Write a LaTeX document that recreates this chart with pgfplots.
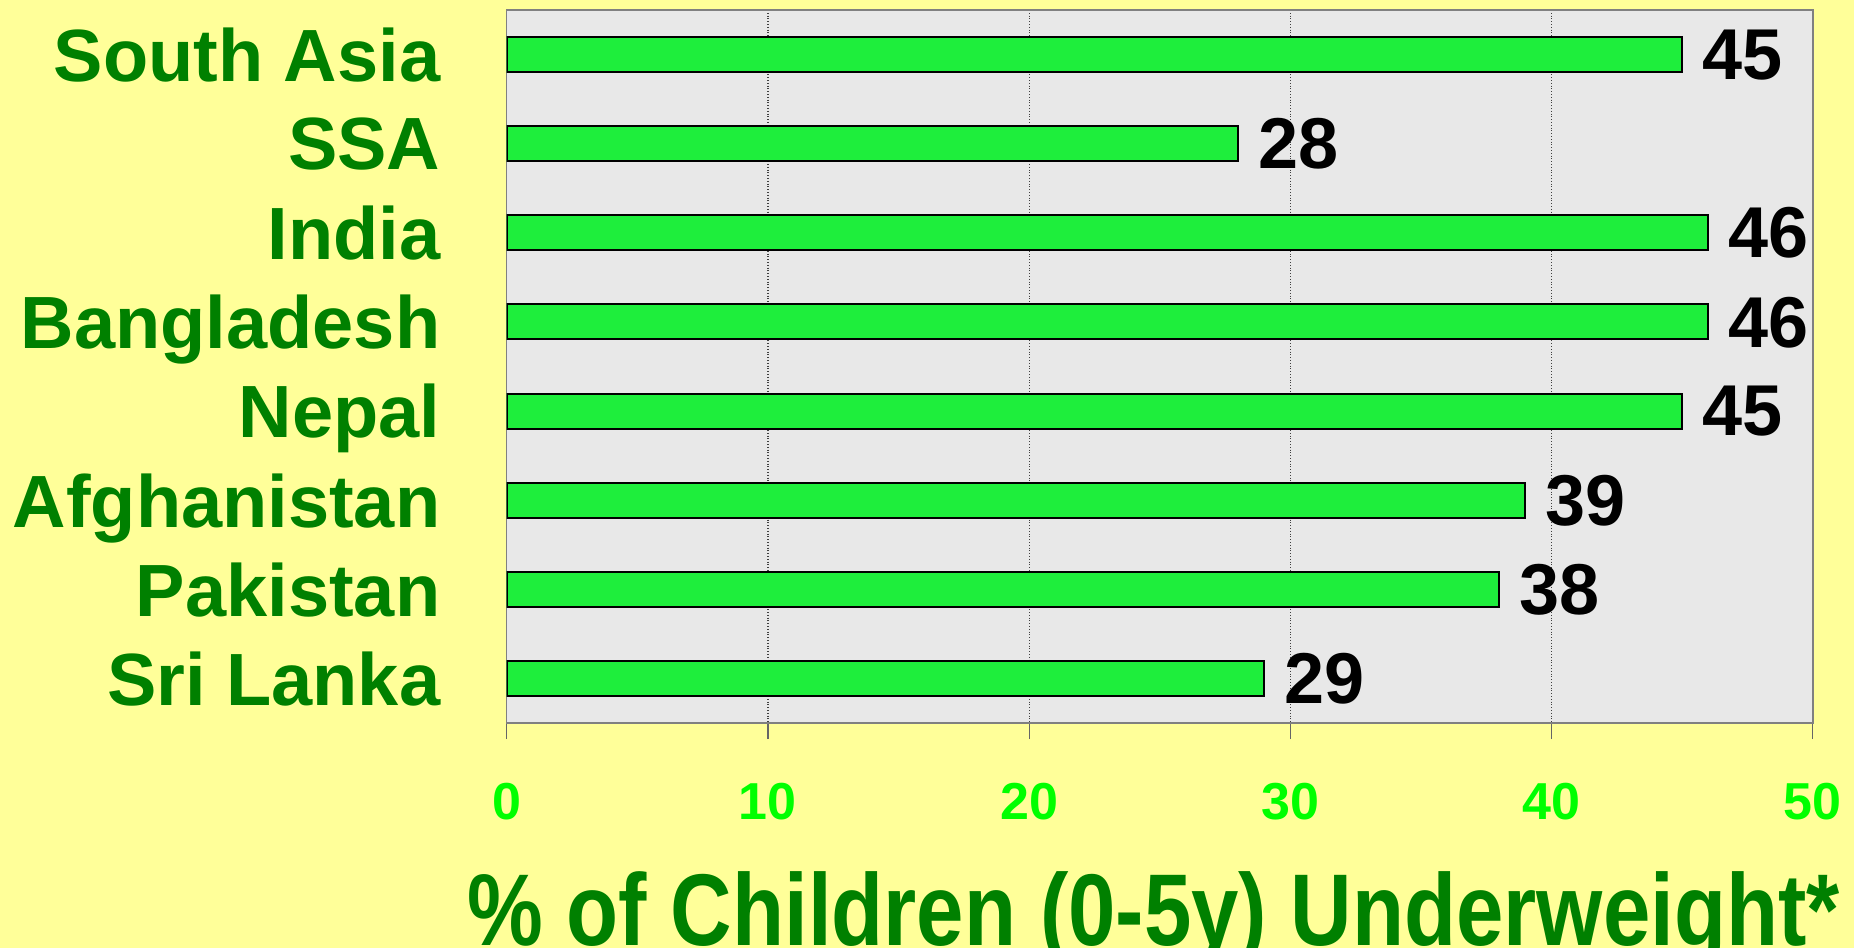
\documentclass[border=0pt]{standalone}
\usepackage{pgfplots}
\pgfplotsset{compat=1.18}
\usepackage{graphicx}
\usepackage{fontspec}
\setmainfont{Liberation Sans}
\definecolor{bgyellow}{RGB}{255,255,153}
\definecolor{plotgray}{RGB}{232,232,232}
\definecolor{bargreen}{RGB}{30,238,60}
\definecolor{labgreen}{RGB}{0,128,0}
\definecolor{tickgreen}{RGB}{0,255,0}
\begin{document}
\begin{tikzpicture}
\fill[bgyellow] (0,0) rectangle (927pt,-474pt);
\begin{axis}[
  at={(253.35pt,-361.5pt)}, anchor=south west,
  width=653pt, height=356.5pt, scale only axis,
  xbar, bar width=0.393,
  xmin=0, xmax=50,
  ymin=-0.5, ymax=7.5, y dir=reverse,
  xtick={0,10,20,30,40,50},
  ytick={0,1,2,3,4,5,6,7},
  yticklabels={South Asia,SSA,India,Bangladesh,Nepal,Afghanistan,Pakistan,Sri Lanka},
  minor ytick={-0.5,0.5,1.5,2.5,3.5,4.5,5.5,6.5,7.5},
  xtick pos=left, ytick pos=left,
  tick align=outside,
  major tick length=8pt, minor tick length=10.5pt,
  ytick style={draw=none},
  minor tick style={draw=black!65, line width=0.8pt},
  xtick style={draw=black!60, line width=0.6pt},
  xmajorgrids, major grid style={densely dotted, draw=black!75, line width=0.6pt},
  axis background/.style={fill=plotgray},
  axis line style={draw=black!50, line width=0.8pt},
  /pgf/number format/assume math mode=true,
  xticklabel style={font=\bfseries\fontsize{26}{26}\selectfont, text=tickgreen, anchor=base, inner sep=0pt, yshift=-40pt},
  yticklabel style={font=\bfseries\fontsize{37}{37}\selectfont, text=labgreen, anchor=east, inner sep=0pt, text depth=0pt, xshift=-25pt},
  xlabel={\scalebox{0.835}[1]{\% of Children (0-5y) Underweight*}},
  xlabel style={font=\bfseries\fontsize{51}{51}\selectfont, text=labgreen, at={(axis description cs:0.5,0)}, anchor=base, inner sep=0pt, yshift=-111pt, xshift=-3pt},
  nodes near coords,
  nodes near coords style={font=\bfseries\fontsize{36}{36}\selectfont, text=black, anchor=west, inner sep=0pt, xshift=9.5pt, text depth=0pt},
]
\addplot[fill=bargreen, draw=black, line width=1pt] coordinates {
  (45,0) (28,1) (46,2) (46,3) (45,4) (39,5) (38,6) (29,7)
};
\end{axis}
\pgfresetboundingbox
\useasboundingbox (0,0) rectangle (927pt,-474pt);
\end{tikzpicture}
\end{document}
